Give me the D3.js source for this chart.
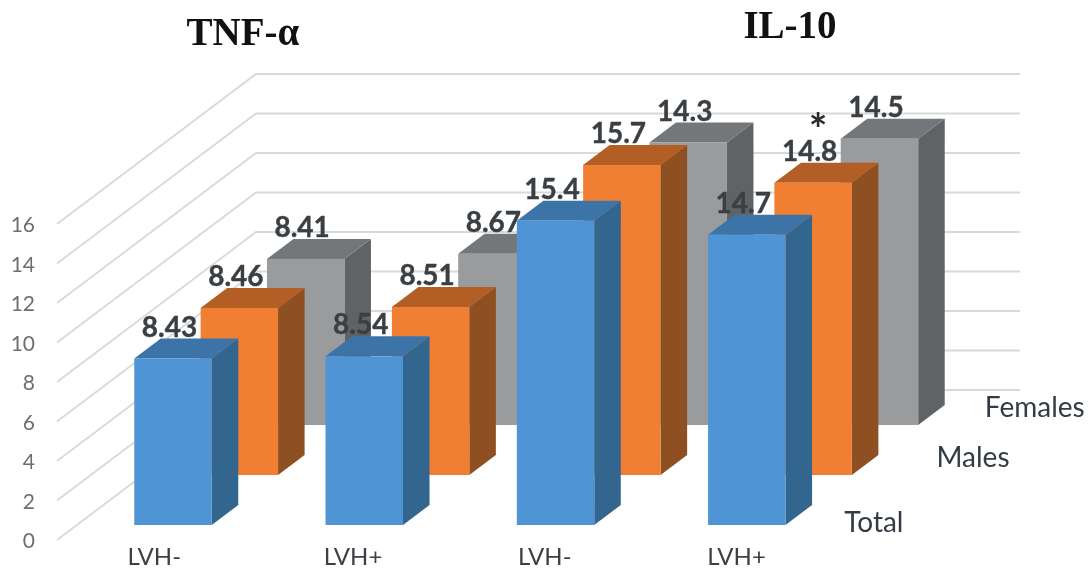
<!DOCTYPE html>
<html>
<head>
<meta charset="utf-8">
<script src="https://cdn.jsdelivr.net/npm/d3@7"></script>
<style>
body { margin: 0; background: #fff; }
svg { display: block; filter: blur(0.5px); }
text { font-family: Lato, sans-serif; }
</style>
</head>
<body>
<div id="chart"></div>
<script>
const categories = ["TNF LVH-", "TNF LVH+", "IL10 LVH-", "IL10 LVH+"];
const tickLabels = ["LVH-", "LVH+", "LVH-", "LVH+"];
const seriesNames = ["Total", "Males", "Females"];
const totalValues = [8.43, 8.54, 15.4, 14.7];
const malesValues = [8.46, 8.51, 15.7, 14.8];
const femalesValues = [8.41, 8.67, 14.3, 14.5];
const yTicks = [0, 2, 4, 6, 8, 10, 12, 14, 16];

const colors = {
    Total: {front: "#4f94d4", top: "#3d74a8", side: "#33668f"},
    Males: {front: "#f07f33", top: "#b25e24", side: "#8f5021"},
    Females: {front: "#999b9d", top: "#73777a", side: "#5f6366"}
};

const svg = d3.select("#chart").append("svg")
    .attr("width", 1092)
    .attr("height", 570);

// plot front-left corner and the oblique depth direction
const x0 = 57, floorDepth = 150, depthSlant = 199 / 150;

const x = d3.scaleBand()
    .domain(categories)
    .range([0, 766])
    .paddingInner(0.595)
    .paddingOuter(0.3);

const y = d3.scaleLinear()
    .domain([0, 16])
    .range([540, 224]);

const depth = d3.scaleBand()
    .domain(seriesNames)
    .range([0, floorDepth])
    .paddingInner(0.6)
    .paddingOuter(0.3);

function px(xp, d) { return x0 + xp + d * depthSlant; }
function py(v, d) { return y(v) - d; }

// gridlines: side wall then back wall
svg.append("g").selectAll("path")
    .data(yTicks)
    .enter()
    .append("path")
    .attr("d", function (t) {
        return d3.line()([
            [px(0, 0), py(t, 0)],
            [px(0, floorDepth), py(t, floorDepth)],
            [px(766, floorDepth) - 2, py(t, floorDepth)]
        ]);
    })
    .attr("fill", "none")
    .attr("stroke", "#d9d9d9")
    .attr("stroke-width", 1.8);

const rows = [];
const seriesValues = {Total: totalValues, Males: malesValues, Females: femalesValues};
// back series first so the front ones cover them
seriesNames.slice().reverse().forEach(function (s) {
    categories.forEach(function (c, i) {
        rows.push({series: s, category: c, value: seriesValues[s][i]});
    });
});

const bars = svg.append("g").selectAll("g")
    .data(rows)
    .enter()
    .append("g");

function corners(d) {
    const a = x(d.category), b = a + x.bandwidth();
    const n = depth(d.series), f = n + depth.bandwidth();
    return {a: a, b: b, n: n, f: f};
}

bars.append("path")
    .attr("d", function (d) {
        const c = corners(d);
        return d3.line()([[px(c.b, c.n), py(0, c.n)], [px(c.b, c.f), py(0, c.f)],
            [px(c.b, c.f), py(d.value, c.f)], [px(c.b, c.n), py(d.value, c.n)]]) + "Z";
    })
    .attr("fill", function (d) { return colors[d.series].side; });

bars.append("path")
    .attr("d", function (d) {
        const c = corners(d);
        return d3.line()([[px(c.a, c.n), py(d.value, c.n)], [px(c.b, c.n), py(d.value, c.n)],
            [px(c.b, c.f), py(d.value, c.f)], [px(c.a, c.f), py(d.value, c.f)]]) + "Z";
    })
    .attr("fill", function (d) { return colors[d.series].top; });

bars.append("rect")
    .attr("x", function (d) { return px(x(d.category), depth(d.series)); })
    .attr("y", function (d) { return py(d.value, depth(d.series)); })
    .attr("width", x.bandwidth())
    .attr("height", function (d) { return y(0) - y(d.value); })
    .attr("fill", function (d) { return colors[d.series].front; });

// value labels sit over all the bars
svg.append("g").selectAll("text")
    .data(rows)
    .enter()
    .append("text")
    .text(function (d) { return d.value; })
    .attr("x", function (d) { return px(x(d.category) + x.bandwidth() / 2, depth(d.series)) - 3.5; })
    .attr("y", function (d) { return py(d.value, depth(d.series)) - 32; })
    .attr("dy", "0.36em")
    .attr("text-anchor", "middle")
    .attr("font-size", 28)
    .attr("font-weight", 700)
    .attr("fill", "#3a3f44")
    .attr("stroke", "#3a3f44")
    .attr("stroke-width", 0.4);

// y axis
const yAxis = d3.axisLeft(y)
    .tickValues(yTicks)
    .tickSize(0)
    .tickPadding(0)
    .tickFormat(d3.format("d"));

const yG = svg.append("g")
    .attr("transform", "translate(35,1)")
    .call(yAxis);
yG.select(".domain").remove();
yG.selectAll("text")
    .style("font-family", "Lato, sans-serif")
    .attr("font-size", 21)
    .attr("fill", "#6f6f6f");

// category labels
const xTickNudge = [-5, 0, 3, 1];
svg.append("g").selectAll("text")
    .data(categories)
    .enter()
    .append("text")
    .text(function (d, i) { return tickLabels[i]; })
    .attr("x", function (d, i) { return x0 + x(d) + 18 + xTickNudge[i]; })
    .attr("y", 556)
    .attr("dy", "0.36em")
    .attr("font-size", 24)
    .attr("fill", "#3c3f44");

// series names along the depth axis
const depthNudge = {Total: [-12, 7], Males: [14, -8], Females: [-4, -8]};
svg.append("g").selectAll("text")
    .data(seriesNames)
    .enter()
    .append("text")
    .text(function (d) { return d; })
    .attr("x", function (d) { return px(766, depth(d) + depth.bandwidth() / 2) + depthNudge[d][0]; })
    .attr("y", function (d) { return py(0, depth(d) + depth.bandwidth() / 2) + depthNudge[d][1]; })
    .attr("dy", "0.36em")
    .attr("font-size", 28)
    .attr("fill", "#333b45");

// significance mark on the IL-10 LVH+ males bar
svg.append("text")
    .text("*")
    .attr("x", px(x("IL10 LVH+") + x.bandwidth() / 2, depth("Males")) + 5)
    .attr("y", py(14.8, depth("Males")) - 38)
    .attr("text-anchor", "middle")
    .attr("font-size", 44)
    .attr("font-weight", 700)
    .attr("fill", "#2b2b2b");

// panel titles
svg.append("text")
    .text("TNF-α")
    .attr("x", 243)
    .attr("y", 45)
    .attr("text-anchor", "middle")
    .style("font-family", "'Liberation Serif', serif")
    .attr("font-size", 39)
    .attr("font-weight", 700)
    .attr("fill", "#111");

svg.append("text")
    .text("IL-10")
    .attr("x", 790)
    .attr("y", 38)
    .attr("text-anchor", "middle")
    .style("font-family", "'Liberation Serif', serif")
    .attr("font-size", 39)
    .attr("font-weight", 700)
    .attr("fill", "#111");
</script>
</body>
</html>
